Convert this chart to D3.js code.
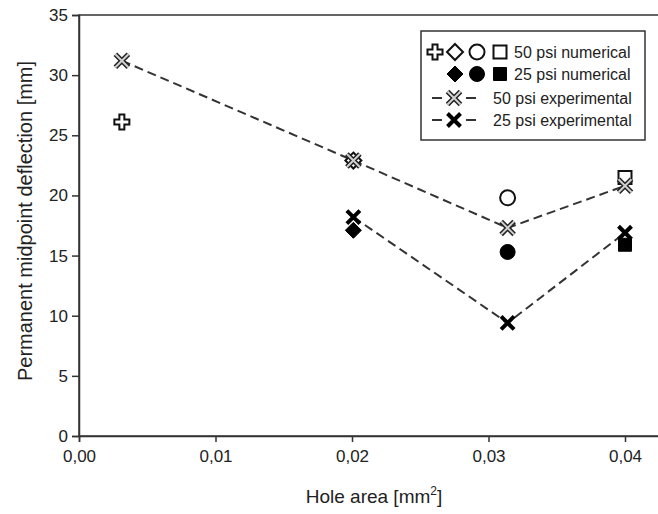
<!DOCTYPE html>
<html lang="en">
<head>
<meta charset="UTF-8">
<title>Permanent midpoint deflection</title>
<script src="https://cdn.jsdelivr.net/npm/d3@7/dist/d3.min.js"></script>
<style>
    body { margin: 0; background: #fff; }
    svg { display: block; font-family: "Liberation Sans", Arial, sans-serif; }
</style>
</head>
<body>
<div id="chart"></div>
<script>
const width = 658;
const height = 514;
const margin = { top: 15, right: 0, bottom: 78, left: 79 };

// hole areas [mm^2]
const holeArea = [0.00314, 0.0201, 0.0314, 0.04];
// 50 psi experimental / numerical
const exp50 = [31.2, 22.9, 17.3, 20.8];
const num50 = [26.1, 22.9, 19.8, 21.5];
const num50Shape = ['plus', 'diamond', 'circle', 'square'];
// 25 psi experimental / numerical (no value at the smallest hole)
const area25 = [0.0201, 0.0314, 0.04];
const exp25 = [18.2, 9.4, 16.9];
const num25 = [17.1, 15.3, 15.9];
const num25Shape = ['diamond', 'circle', 'square'];

const xTicks = [0, 0.01, 0.02, 0.03, 0.04];
const yTicks = [0, 5, 10, 15, 20, 25, 30, 35];
const legendLabels = ['50 psi numerical', '25 psi numerical', '50 psi experimental', '25 psi experimental'];

const svg = d3.select('#chart').append('svg')
    .attr('width', width)
    .attr('height', height);

const x = d3.scaleLinear()
    .domain([0, 0.0425])
    .range([margin.left, margin.left + 0.0425 * 13650]);

const y = d3.scaleLinear()
    .domain([0, 35])
    .range([height - margin.bottom, margin.top]);

// frame
svg.append('rect')
    .attr('x', x(0))
    .attr('y', y(35))
    .attr('width', x(0.0425) - x(0))
    .attr('height', y(0) - y(35))
    .attr('fill', 'none')
    .attr('stroke', '#333')
    .attr('stroke-width', 1.5);

// axes
const xAxis = svg.append('g')
    .attr('transform', `translate(0,${y(0)})`)
    .call(d3.axisBottom(x).tickValues(xTicks).tickSize(6).tickPadding(8)
        .tickFormat(d => d3.format('.2f')(d).replace('.', ',')));
const yAxis = svg.append('g')
    .attr('transform', `translate(${x(0)},0)`)
    .call(d3.axisLeft(y).tickValues(yTicks).tickSize(7).tickPadding(4));

[xAxis, yAxis].forEach(g => {
    g.select('.domain').attr('stroke', '#333').attr('stroke-width', 1.5);
    g.selectAll('.tick line').attr('stroke', '#333').attr('stroke-width', 1.5);
    g.selectAll('.tick text')
        .attr('fill', '#222')
        .style('font-size', '17px')
        .style('font-family', '"Liberation Sans", Arial, sans-serif');
});

// axis titles
svg.append('text')
    .attr('x', 374)
    .attr('y', 503)
    .attr('text-anchor', 'middle')
    .attr('fill', '#222')
    .style('font-size', '19px')
    .html('Hole area [mm<tspan dy="-8" font-size="12px">2</tspan><tspan dy="8">]</tspan>');

svg.append('text')
    .attr('transform', 'translate(32,221) rotate(-90)')
    .attr('text-anchor', 'middle')
    .attr('fill', '#222')
    .style('font-size', '20px')
    .text('Permanent midpoint deflection [mm]');

// marker paths centred on 0,0
function xPath(s) {
    return `M${-s},${-s}L${s},${s}M${-s},${s}L${s},${-s}`;
}
function plusPath(a, b) {
    return `M${-b},${-a}H${b}V${-b}H${a}V${b}H${b}V${a}H${-b}V${b}H${-a}V${-b}H${-b}Z`;
}
function shapePath(shape) {
    if (shape === 'plus') return plusPath(7.5, 2.5);
    if (shape === 'diamond') return 'M0,-8L8,0L0,8L-8,0Z';
    if (shape === 'square') return 'M-6.5,-6.5H6.5V6.5H-6.5Z';
    return d3.arc()({ innerRadius: 0, outerRadius: 7.5, startAngle: 0, endAngle: 2 * Math.PI });
}

function drawOpen(g, shape) {
    g.append('path').attr('d', shapePath(shape))
        .attr('fill', '#fff').attr('stroke', '#111').attr('stroke-width', 2);
}
function drawFilled(g, shape) {
    g.append('path').attr('d', shapePath(shape))
        .attr('fill', '#000').attr('stroke', '#000').attr('stroke-width', 1);
}
function drawGrayX(g) {
    g.append('path').attr('d', xPath(6.5))
        .attr('stroke', '#222').attr('stroke-width', 5).attr('fill', 'none');
    g.append('path').attr('d', xPath(6.5))
        .attr('stroke', '#d0d0d0').attr('stroke-width', 2).attr('fill', 'none');
}
function drawBlackX(g) {
    g.append('path').attr('d', xPath(6.5))
        .attr('stroke', '#000').attr('stroke-width', 4).attr('fill', 'none');
}

// dashed experimental lines
const line = d3.line().x(d => x(d[0])).y(d => y(d[1]));
svg.append('path')
    .attr('d', line(d3.zip(holeArea, exp50)))
    .attr('fill', 'none').attr('stroke', '#333').attr('stroke-width', 2)
    .attr('stroke-dasharray', '9,5');
svg.append('path')
    .attr('d', line(d3.zip(area25, exp25)))
    .attr('fill', 'none').attr('stroke', '#333').attr('stroke-width', 2)
    .attr('stroke-dasharray', '9,5');

// numerical markers
holeArea.forEach((a, i) => {
    drawOpen(svg.append('g').attr('transform', `translate(${x(a)},${y(num50[i])})`), num50Shape[i]);
});
area25.forEach((a, i) => {
    drawFilled(svg.append('g').attr('transform', `translate(${x(a)},${y(num25[i])})`), num25Shape[i]);
});
// experimental markers
holeArea.forEach((a, i) => {
    drawGrayX(svg.append('g').attr('transform', `translate(${x(a)},${y(exp50[i])})`));
});
area25.forEach((a, i) => {
    drawBlackX(svg.append('g').attr('transform', `translate(${x(a)},${y(exp25[i])})`));
});

// legend
const legend = svg.append('g');
legend.append('rect')
    .attr('x', 421).attr('y', 31).attr('width', 224).attr('height', 109)
    .attr('fill', '#fff').attr('stroke', '#333').attr('stroke-width', 1.5);

const rowY = [52, 74, 98, 120];
const symX = [435, 455, 477, 500];
num50Shape.forEach((s, i) => drawOpen(legend.append('g').attr('transform', `translate(${symX[i]},${rowY[0]})`), s));
num25Shape.forEach((s, i) => drawFilled(legend.append('g').attr('transform', `translate(${symX[i + 1]},${rowY[1]})`), s));
[2, 3].forEach(r => {
    legend.append('path')
        .attr('d', `M432,${rowY[r]}H442M466,${rowY[r]}H476`)
        .attr('stroke', '#333').attr('stroke-width', 2);
    const g = legend.append('g').attr('transform', `translate(454,${rowY[r]})`);
    if (r === 2) drawGrayX(g); else drawBlackX(g);
});
legend.selectAll('.lbl')
    .data(legendLabels).enter()
    .append('text')
    .attr('class', 'lbl')
    .attr('x', (d, i) => i < 2 ? 514 : 493)
    .attr('y', (d, i) => rowY[i])
    .attr('dy', '0.35em')
    .attr('fill', '#222')
    .style('font-size', '16px')
    .text(d => d);
</script>
</body>
</html>
